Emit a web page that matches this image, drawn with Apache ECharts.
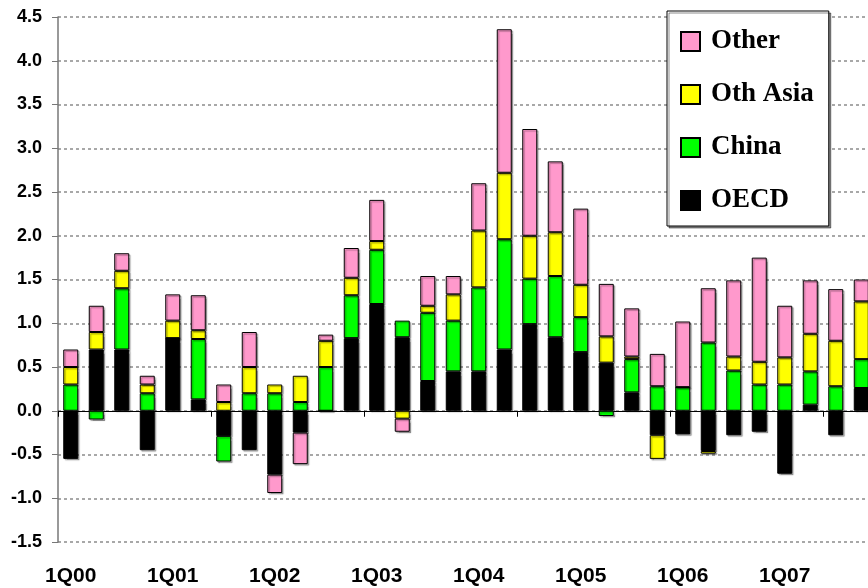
<!DOCTYPE html>
<html>
<head>
<meta charset="utf-8">
<script src="https://cdn.jsdelivr.net/npm/echarts@6/dist/echarts.min.js"></script>
<style>
html,body{margin:0;padding:0;background:#fff;}
#chart{width:868px;height:588px;}
</style>
</head>
<body>
<div id="chart"></div>
<script>
var categories = ['1Q00','2Q00','3Q00','4Q00','1Q01','2Q01','3Q01','4Q01',
  '1Q02','2Q02','3Q02','4Q02','1Q03','2Q03','3Q03','4Q03',
  '1Q04','2Q04','3Q04','4Q04','1Q05','2Q05','3Q05','4Q05',
  '1Q06','2Q06','3Q06','4Q06','1Q07','2Q07','3Q07','4Q07'];
var oecd = [-0.55, 0.70, 0.70, -0.45, 0.83, 0.13, -0.29, -0.45, -0.73, -0.25, 0, 0.83,
  1.22, 0.84, 0.34, 0.45, 0.45, 0.70, 0.99, 0.84, 0.67, 0.55, 0.21, -0.28,
  -0.27, -0.46, -0.28, -0.24, -0.72, 0.07, -0.28, 0.26];
var china = [0.30, -0.10, 0.70, 0.20, 0, 0.69, -0.29, 0.20, 0.20, 0.10, 0.50, 0.49,
  0.62, 0.19, 0.78, 0.58, 0.96, 1.26, 0.52, 0.70, 0.40, -0.06, 0.38, 0.28,
  0.27, 0.78, 0.46, 0.30, 0.30, 0.38, 0.28, 0.33];
var othAsia = [0.20, 0.20, 0.20, 0.10, 0.20, 0.10, 0.10, 0.30, 0.10, 0.30, 0.30, 0.20,
  0.10, -0.09, 0.08, 0.30, 0.65, 0.76, 0.49, 0.50, 0.37, 0.30, 0.03, -0.27,
  0, -0.03, 0.16, 0.26, 0.31, 0.43, 0.52, 0.66];
var other = [0.20, 0.30, 0.20, 0.10, 0.30, 0.40, 0.20, 0.40, -0.21, -0.36, 0.07, 0.34,
  0.47, -0.15, 0.34, 0.21, 0.54, 1.64, 1.22, 0.81, 0.87, 0.60, 0.55, 0.37,
  0.75, 0.62, 0.87, 1.19, 0.59, 0.61, 0.59, 0.25];
var seriesNames = ['OECD', 'China', 'Oth Asia', 'Other'];
var seriesColors = ['#000000', '#00ff00', '#ffff00', '#ff99cc'];
var legendOrder = ['Other', 'Oth Asia', 'China', 'OECD'];

var chart = echarts.init(document.getElementById('chart'), null, {renderer: 'canvas'});
var dataSets = [oecd, china, othAsia, other];
var series = dataSets.map(function (d, i) {
  return {
    name: seriesNames[i],
    type: 'bar',
    stack: 'total',
    barWidth: 15,
    data: d,
    itemStyle: {
      color: seriesColors[i],
      borderColor: '#000',
      borderWidth: 1,
      shadowColor: 'rgba(0,0,0,0.3)',
      shadowOffsetX: 1.5,
      shadowOffsetY: 1.5,
      shadowBlur: 1
    },
    emphasis: {disabled: true}
  };
});

chart.setOption({
  animation: false,
  backgroundColor: '#fff',
  grid: {left: 58, top: 17, width: 816, height: 525, containLabel: false, outerBoundsMode: 'none'},
  legend: {
    data: legendOrder,
    orient: 'vertical',
    left: 667,
    top: 11,
    padding: [17, 15, 12, 13],
    itemWidth: 19,
    itemHeight: 19,
    itemGap: 26,
    icon: 'rect',
    backgroundColor: '#fff',
    borderColor: '#000',
    borderWidth: 1,
    shadowColor: 'rgba(0,0,0,0.45)',
    shadowOffsetX: 2,
    shadowOffsetY: 2,
    shadowBlur: 0,
    selectedMode: false,
    textStyle: {
      fontFamily: 'Liberation Serif, Times New Roman, serif',
      fontWeight: 'bold',
      fontSize: 27,
      color: '#000',
      padding: [0, 0, 0, 6]
    }
  },
  xAxis: [
    {
      type: 'category',
      data: categories,
      position: 'bottom',
      axisLine: {onZero: true, lineStyle: {color: '#000', width: 1}},
      axisTick: {show: true, interval: 5, length: 6, lineStyle: {color: '#000'}},
      axisLabel: {show: false},
      splitLine: {show: false}
    },
    {
      type: 'category',
      data: categories,
      position: 'bottom',
      axisLine: {show: false, onZero: false},
      axisTick: {show: false},
      axisLabel: {
        show: true,
        interval: 3,
        margin: 24,
        fontFamily: 'Liberation Sans, Arial, sans-serif',
        fontWeight: 'bold',
        fontSize: 21,
        color: '#000'
      },
      splitLine: {show: false}
    }
  ],
  yAxis: {
    type: 'value',
    min: -1.5,
    max: 4.5,
    interval: 0.5,
    axisLine: {show: true, lineStyle: {color: '#777', width: 1.5}},
    axisTick: {show: true, length: 6, lineStyle: {color: '#777'}},
    axisLabel: {
      margin: 16,
      fontFamily: 'Liberation Sans, Arial, sans-serif',
      fontWeight: 'bold',
      fontSize: 18,
      color: '#000',
      formatter: function (v) { return v.toFixed(1); }
    },
    splitLine: {show: true, lineStyle: {color: '#8c8c8c', width: 1.5, type: [3, 3]}}
  },
  series: series
});
</script>
</body>
</html>
